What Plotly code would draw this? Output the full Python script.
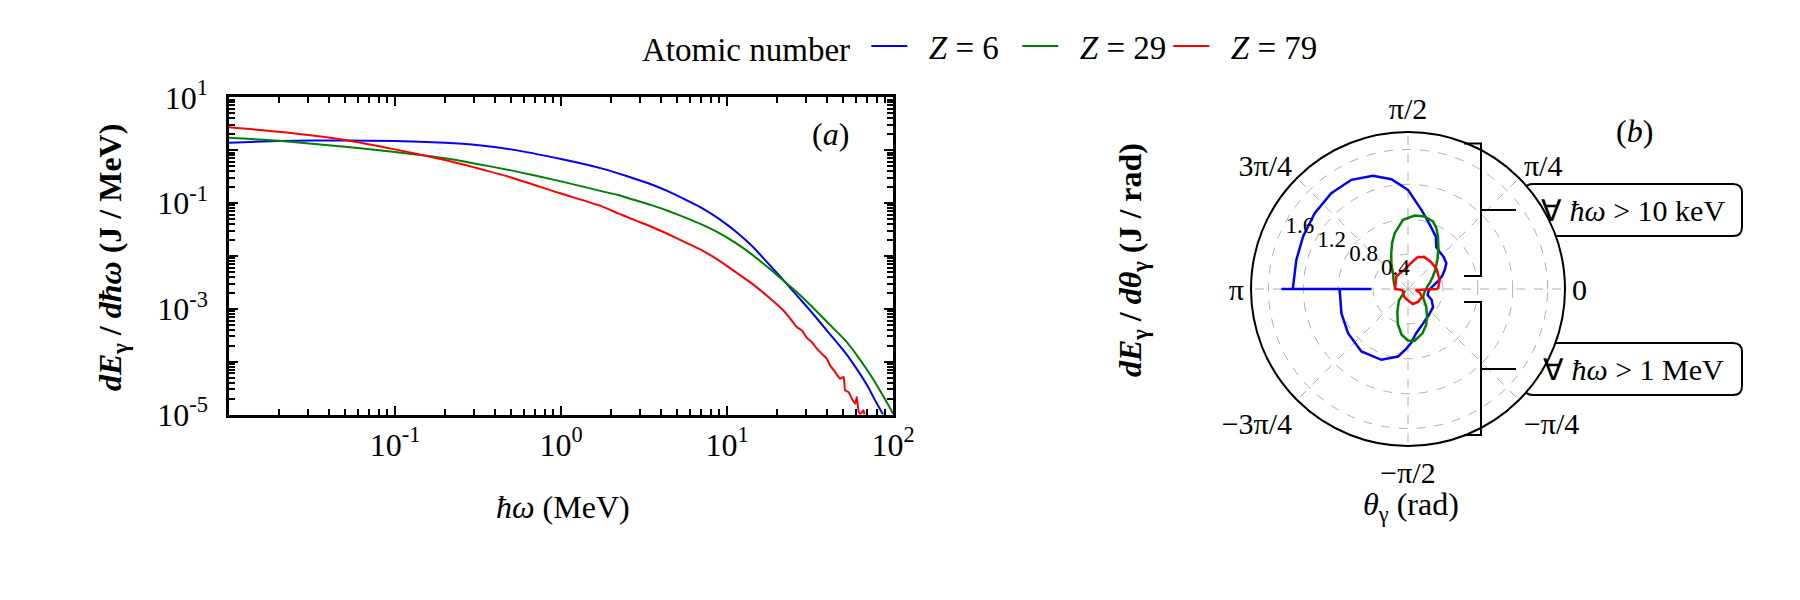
import plotly.graph_objects as go

# --- panel (a): photon energy spectra, dE/dhw (J/MeV) vs hw (MeV) ---
E_Z6 = [0.01, 0.02, 0.05, 0.1, 0.2, 0.3, 0.5, 1.0, 1.75, 2.21, 2.78, 3.51, 4.43,
        5.57, 7.03, 8.87, 11.2, 14.1, 17.7, 22.3, 26.9, 30.9, 40.7, 51.3, 61.7,
        70.8, 77.6, 87.1]
S_Z6 = [1.38, 1.49, 1.53, 1.49, 1.38, 1.27, 1.035, 0.679, 0.453, 0.364, 0.288,
        0.224, 0.166, 0.1175, 0.0813, 0.0513, 0.0295, 0.0155, 0.00724, 0.00324,
        0.00166, 0.00102, 3.63e-4, 1.51e-4, 6.6e-5, 3.31e-5, 1.91e-5, 1.0e-5]

E_Z29 = [0.01, 0.02, 0.05, 0.1, 0.2, 0.3, 0.5, 1.0, 1.75, 2.21, 2.78, 3.51, 4.43,
         5.57, 7.03, 8.87, 11.2, 14.1, 17.7, 22.3, 26.9, 30.9, 40.7, 51.3, 61.7,
         74.5, 85.7, 94.0, 100.0]
S_Z29 = [1.72, 1.51, 1.16, 0.923, 0.700, 0.562, 0.415, 0.257, 0.168, 0.1416,
         0.1138, 0.0912, 0.0708, 0.0537, 0.0394, 0.0275, 0.0178, 0.0107,
         0.00603, 0.00324, 0.00195, 0.00129, 5.37e-4, 2.57e-4, 1.22e-4, 5.13e-5,
         2.48e-5, 1.49e-5, 1.03e-5]

E_Z79 = [0.01, 0.02, 0.05, 0.1, 0.2, 0.3, 0.5, 1.0, 1.75, 2.21, 2.78, 3.51, 4.43,
         5.57, 7.03, 8.87, 11.2, 14.1, 17.7, 22.3, 24.5, 26.3, 28.2, 30.2, 32.4,
         34.8, 37.2, 39.9, 41.8, 44.8, 48.0, 50.4, 51.5, 54.0, 56.5, 59.2, 60.5,
         61.9, 63.4, 66.4, 67.9]
S_Z79 = [2.70, 2.23, 1.56, 1.035, 0.650, 0.472, 0.305, 0.151, 0.0875, 0.0637,
         0.0475, 0.0356, 0.0257, 0.0182, 0.0129, 0.00832, 0.00501, 0.00302,
         0.00168, 8.7e-4, 6.05e-4, 4.52e-4, 3.92e-4, 2.85e-4, 2.35e-4, 1.76e-4,
         1.42e-4, 1.14e-4, 8.5e-5, 6.35e-5, 4.76e-5, 5.13e-5, 2.86e-5, 2.65e-5,
         2.0e-5, 1.6e-5, 2.14e-5, 1.2e-5, 1.0e-5, 1.2e-5, 8e-6]

# --- panel (b): angular distribution dE/dtheta (J/rad), theta in degrees ---
# lower half (theta < 0) is hw > 1 MeV, upper half is hw > 10 keV
TH_Z6 = [-180, -160, -143.6, -126.7, -110.6, -98.4, -92, -86.7, -80, -68, -51,
         -36, -25, -17, -8, 0, 7, 15, 21, 28, 34, 42, 50, 56, 62, 69, 75, 80.4,
         90, 98.6, 107.2, 117.4, 128.7, 140.9, 153.4, 165.4, 178.8, 180, 180, 180]
R_Z6 = [0.783, 0.813, 0.854, 0.894, 0.867, 0.782, 0.69, 0.62, 0.52, 0.44, 0.38,
        0.355, 0.30, 0.235, 0.235, 0.25, 0.29, 0.36, 0.42, 0.48, 0.53, 0.55,
        0.56, 0.58, 0.68, 0.75, 0.83, 0.92, 1.136, 1.273, 1.358, 1.41, 1.407,
        1.378, 1.345, 1.323, 1.318, 1.318, 1.452, 0.42]

TH_Z29 = [-150, -128, -115, -106, -98, -90, -83, -72, -63, -55, -44, -30, -15,
          -3, 0, 7.4, 16, 26.6, 36, 44.8, 53, 60.3, 65, 69.7, 77.1, 84.8, 94.1,
          103.4, 109, 115.1, 124, 133.5, 150, 169.4, 180]
R_Z29 = [0.04, 0.17, 0.29, 0.42, 0.53, 0.59, 0.60, 0.535, 0.46, 0.38, 0.29,
         0.20, 0.19, 0.20, 0.21, 0.223, 0.26, 0.32, 0.39, 0.474, 0.58, 0.693,
         0.77, 0.825, 0.853, 0.846, 0.795, 0.658, 0.56, 0.453, 0.34, 0.25, 0.19,
         0.155, 0.145]

TH_Z79 = [0, 15.9, 36.1, 50.3, 63.7, 73.6, 84.1, 96.4, 114.2, 133.4, 155.3, 180,
          -170, -117.6, -88.4, -71.6, -50.8, -28.1, -17.4, -7.4, 0]
R_Z79 = [0.344, 0.377, 0.402, 0.407, 0.413, 0.378, 0.296, 0.238, 0.205, 0.195,
         0.156, 0.149, 0.066, 0.099, 0.134, 0.181, 0.187, 0.186, 0.140, 0.089,
         0.344]

COLORS = ['#0000ff', '#008000', '#ff0000']
NAMES = ['\u00a0\u00a0<i>Z</i> = 6', '\u00a0\u00a0<i>Z</i> = 29', '\u00a0\u00a0<i>Z</i> = 79']

FONT = 'Liberation Serif'
W, H = 1800, 600
PAGE_OFF = 8  # the html body margin shifts the whole figure by this much


def px(x):
    return (x - PAGE_OFF) / W


def py(y):
    return 1 - (y - PAGE_OFF) / H


fig = go.Figure()

for e, s, c, n in zip([E_Z6, E_Z29, E_Z79], [S_Z6, S_Z29, S_Z79], COLORS, NAMES):
    fig.add_trace(go.Scatter(x=e, y=s, mode='lines', name=n,
                             line=dict(color=c, width=2, shape='spline', smoothing=0.5)))

for th, r, c in zip([TH_Z6, TH_Z29, TH_Z79], [R_Z6, R_Z29, R_Z79], COLORS):
    fig.add_trace(go.Scatterpolar(theta=th, r=r, mode='lines', showlegend=False,
                                  line=dict(color=c, width=2.5)))

# log axes with inward ticks on all four sides
axis_common = dict(type='log', showline=True, linecolor='black', linewidth=2.5,
                   mirror='ticks', ticks='inside', ticklen=9, tickwidth=2,
                   tickcolor='black', showgrid=False, zeroline=False,
                   tickfont=dict(family=FONT, size=32, color='black'),
                   minor=dict(ticks='inside', ticklen=6, tickwidth=1.5,
                              tickcolor='black', dtick='D1', showgrid=False))

fig.update_layout(
    xaxis=dict(axis_common, domain=[px(229), px(893)], range=[-2, 2],
               tickvals=[0.1, 1, 10, 100],
               ticktext=['10<sup>-1</sup>', '10<sup>0</sup>', '10<sup>1</sup>', '10<sup>2</sup>'],
               ticklabelstandoff=0),
    yaxis=dict(axis_common, domain=[py(414.5), py(97.3)], range=[-5, 1],
               tickvals=[1e-5, 1e-4, 1e-3, 1e-2, 1e-1, 1, 10],
               ticktext=['10<sup>-5</sup>', '', '10<sup>-3</sup>', '', '10<sup>-1</sup>', '', '10<sup>1</sup>'],
               ticklabelstandoff=12),
    polar=dict(
        domain=dict(x=[px(1408 - 157), px(1408 + 157)], y=[py(289 + 157), py(289 - 157)]),
        bgcolor='white',
        radialaxis=dict(range=[0, 1.8], tickvals=[0.4, 0.8, 1.2, 1.6],
                        ticktext=['0.4', '0.8', '1.2', '1.6'], angle=156,
                        tickangle=156, side='clockwise', showline=False, ticks='',
                        gridcolor='#b0b0b0', griddash='dash', gridwidth=1,
                        tickfont=dict(family=FONT, size=23, color='black')),
        angularaxis=dict(rotation=0, direction='counterclockwise',
                         tickvals=[0, 45, 90, 135, 180, 225, 270, 315],
                         ticktext=['0', 'π/4', 'π/2', '3π/4', 'π', '−3π/4', '−π/2', '−π/4'],
                         showline=True, linecolor='black', linewidth=2, ticks='',
                         gridcolor='#b0b0b0', griddash='dash', gridwidth=1,
                         tickfont=dict(family=FONT, size=30, color='black')),
    ),
    legend=dict(orientation='h', x=px(640), xanchor='left', y=py(46), yanchor='middle',
                title=dict(text='Atomic number ', side='left',
                           font=dict(family=FONT, size=33, color='black')),
                font=dict(family=FONT, size=33, color='black'),
                itemwidth=36, entrywidth=100, bgcolor='rgba(0,0,0,0)'),
    width=W, height=H,
    margin=dict(l=0, r=0, t=0, b=0, autoexpand=False),
    paper_bgcolor='white', plot_bgcolor='white',
    font=dict(family=FONT, color='black'),
)

annots = [
    dict(x=px(112), y=py(258), text='<b><i>dE</i><sub>γ</sub> / <i>dħω</i> (J / MeV)</b>',
         textangle=-90, size=32),
    dict(x=px(563), y=py(507), text='<i>ħω</i> (MeV)', textangle=0, size=32),
    dict(x=px(830), y=py(134), text='(<i>a</i>)', textangle=0, size=32),
    dict(x=px(1634), y=py(131), text='(<i>b</i>)', textangle=0, size=32),
    dict(x=px(1133), y=py(260), text='<b><i>dE</i><sub>γ</sub> / <i>dθ</i><sub>γ</sub> (J / rad)</b>',
         textangle=-90, size=32),
    dict(x=px(1411), y=py(506), text='<i>θ</i><sub>γ</sub> (rad)', textangle=0, size=32),
    dict(x=px(1633), y=py(210), text='∀ <i>ħω</i> > 10 keV', textangle=0, size=30),
    dict(x=px(1633), y=py(369), text='∀ <i>ħω</i> > 1 MeV', textangle=0, size=30),
]
for a in annots:
    fig.add_annotation(x=a['x'], y=a['y'], xref='paper', yref='paper', text=a['text'],
                       textangle=a['textangle'], showarrow=False,
                       xanchor='center', yanchor='middle',
                       font=dict(family=FONT, size=a['size'], color='black'))

# brackets joining the two halves of the polar plot to their labels
line_style = dict(color='black', width=2)
for top, bot, mid in [(143.5, 276, 210), (302, 435, 369)]:
    fig.add_shape(type='path', xref='paper', yref='paper', line=line_style,
                  path=f'M {px(1464)} {py(top)} L {px(1481)} {py(top)} '
                       f'L {px(1481)} {py(bot)} L {px(1464)} {py(bot)}')
    fig.add_shape(type='line', xref='paper', yref='paper', line=line_style,
                  x0=px(1481), x1=px(1516), y0=py(mid), y1=py(mid))


def rounded_box(x0, y0, x1, y1, rad=9):
    p = (f'M {px(x0 + rad)} {py(y0)} L {px(x1 - rad)} {py(y0)} '
         f'Q {px(x1)} {py(y0)} {px(x1)} {py(y0 + rad)} L {px(x1)} {py(y1 - rad)} '
         f'Q {px(x1)} {py(y1)} {px(x1 - rad)} {py(y1)} L {px(x0 + rad)} {py(y1)} '
         f'Q {px(x0)} {py(y1)} {px(x0)} {py(y1 - rad)} L {px(x0)} {py(y0 + rad)} '
         f'Q {px(x0)} {py(y0)} {px(x0 + rad)} {py(y0)} Z')
    return p


for y0, y1 in [(184, 236), (343, 395)]:
    fig.add_shape(type='path', xref='paper', yref='paper', path=rounded_box(1524, y0, 1742, y1),
                  line=dict(color='black', width=2), fillcolor='white', layer='below')

fig.write_html("out.html")
